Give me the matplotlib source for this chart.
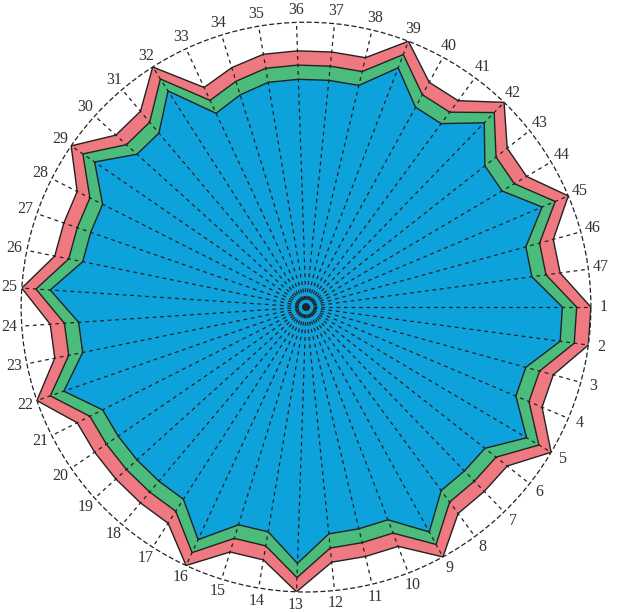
import numpy as np
import matplotlib
matplotlib.use("Agg")
import matplotlib.pyplot as plt

categories = [str(i) for i in range(1, 48)]
# base layer (blue)
blue = [90, 90, 80, 80, 90, 80, 80, 80, 90, 80, 80, 80, 90, 80, 80, 90, 80, 80, 80, 80,
        80, 90, 80, 80, 90, 80, 80, 80, 90, 80, 80, 90, 75, 78, 80, 80, 80, 80, 90, 80,
        80, 90, 80, 80, 90, 80, 80]
# increments stacked on top
green_inc = [5] * 47
red_inc = [5] * 47

plt.rcParams['font.family'] = ['Liberation Serif', 'DejaVu Serif']

fig = plt.figure(figsize=(6.23, 6.12), dpi=100)
ax = fig.add_axes([0.0337, 0.0327, 0.915, 0.931], projection='polar')
ax.set_theta_zero_location('E')
ax.set_theta_direction(-1)

n = len(categories)
theta = np.arange(n) * 2 * np.pi / n
b = np.array(blue, float)
g = b + np.array(green_inc, float)
r = g + np.array(red_inc, float)

tc = np.append(theta, theta[0])
def closed(v):
    return np.append(v, v[0])

ax.fill(tc, closed(r), facecolor='#ef7981', edgecolor='#222222', lw=1.0, zorder=2)
ax.fill(tc, closed(g), facecolor='#4cbc7c', edgecolor='#222222', lw=1.0, zorder=3)
ax.fill(tc, closed(b), facecolor='#0ea2dc', edgecolor='#222222', lw=1.0, zorder=4)

rmax = 100
ax.set_ylim(0, rmax)
ax.set_yticks([])
ax.set_xticks([])
ax.grid(False)
ax.spines['polar'].set_linestyle((0, (3, 3)))
ax.spines['polar'].set_linewidth(0.9)
ax.spines['polar'].set_color('#222222')

for t in theta:
    ax.plot([t, t], [0, rmax], color='#222222', lw=0.9, ls=(0, (3, 3)), zorder=5)

for t, lab in zip(theta, categories):
    ax.text(t, rmax * 1.045, lab, ha='center', va='center', fontsize=11.5,
            color='#333333', clip_on=False)

fig.savefig('out.png', dpi=100)
